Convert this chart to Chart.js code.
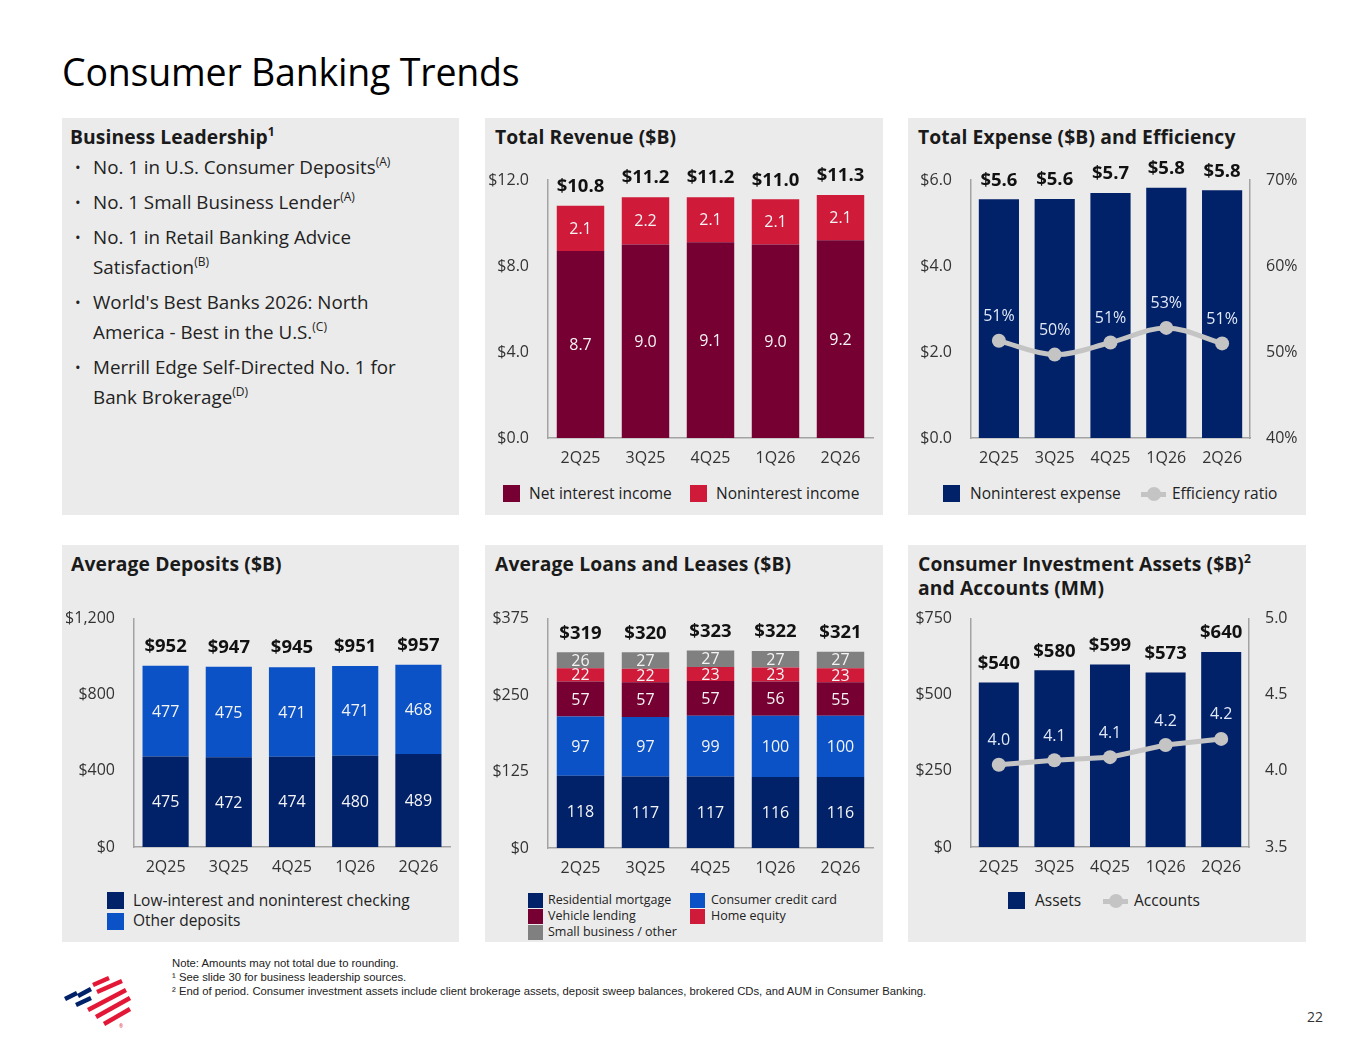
<!DOCTYPE html>
<html>
<head>
<meta charset="utf-8">
<title>Consumer Banking Trends</title>
<script src="https://cdn.jsdelivr.net/npm/chart.js@4.4.1/dist/chart.umd.min.js"></script>
<style>
  body { margin: 0; background: #fff; font-family: 'Open Sans', sans-serif; color: #222; }
  #page { position: relative; width: 1365px; height: 1055px; overflow: hidden; background: #fff; }
  .panel { position: absolute; background: #ebebeb; }
  .ptitle { position: absolute; left: 10px; top: 7px; font-weight: 700; font-size: 19.3px; line-height: 24px; color: #1a1a1a; white-space: nowrap; letter-spacing: 0.1px; }
  .ptitle sup { font-size: 12px; vertical-align: 8px; line-height: 0; }
  canvas { position: absolute; }
  h1 { position: absolute; left: 62px; top: 44px; margin: 0; font-weight: 400; font-size: 37.5px; line-height: 56px; color: #000; letter-spacing: -0.2px; }
  .bullets { position: absolute; left: 0; top: 34px; margin: 0; padding: 0; list-style: none; font-size: 18.8px; line-height: 30px; color: #222; white-space: nowrap; }
  .bullets li { position: relative; padding-left: 31px; margin-bottom: 5px; }
  .bullets li::before { content: '\2022'; position: absolute; left: 13px; top: 0; font-size: 15px; }
  .bullets sup { font-size: 12px; vertical-align: 8px; line-height: 0; }
  .leg { position: absolute; font-size: 15.5px; line-height: 20px; color: #222; white-space: nowrap; }
  .leg .sq { position: absolute; width: 17px; height: 17px; }
  .leg .ln { position: absolute; width: 25px; height: 5px; background: #c4c4c4; }
  .leg .ln::after { content: ''; position: absolute; left: 6px; top: -5px; width: 14px; height: 14px; border-radius: 50%; background: #c4c4c4; }
  .small { font-size: 12.5px; line-height: 16px; }
  .small .sq { width: 15px; height: 15px; }
  .notes { position: absolute; left: 172px; top: 956px; font-family: 'Liberation Sans Narrow', 'Arial Narrow', sans-serif; font-size: 11.3px; line-height: 14px; color: #222; white-space: nowrap; }
  .pnum { position: absolute; left: 1307px; top: 1007px; font-size: 14px; color: #333; }
</style>
</head>
<body>
<div id="page">
  <h1>Consumer Banking Trends</h1>

  <div class="panel" style="left:62px;top:118px;width:397px;height:397px">
    <div class="ptitle" style="left:8px">Business Leadership<sup>1</sup></div>
    <ul class="bullets">
      <li>No. 1 in U.S. Consumer Deposits<sup>(A)</sup></li>
      <li>No. 1 Small Business Lender<sup>(A)</sup></li>
      <li>No. 1 in Retail Banking Advice<br>Satisfaction<sup>(B)</sup></li>
      <li>World's Best Banks 2026: North<br>America - Best in the U.S.<sup>(C)</sup></li>
      <li>Merrill Edge Self-Directed No. 1 for<br>Bank Brokerage<sup>(D)</sup></li>
    </ul>
  </div>

  <div class="panel" style="left:485px;top:118px;width:398px;height:397px">
    <div class="ptitle">Total Revenue ($B)</div>
  </div>
  <div class="panel" style="left:908px;top:118px;width:398px;height:397px">
    <div class="ptitle">Total Expense ($B) and Efficiency</div>
  </div>
  <div class="panel" style="left:62px;top:545px;width:397px;height:397px">
    <div class="ptitle" style="left:9px">Average Deposits ($B)</div>
  </div>
  <div class="panel" style="left:485px;top:545px;width:398px;height:397px">
    <div class="ptitle">Average Loans and Leases ($B)</div>
  </div>
  <div class="panel" style="left:908px;top:545px;width:398px;height:397px">
    <div class="ptitle">Consumer Investment Assets ($B)<sup>2</sup><br>and Accounts (MM)</div>
  </div>

  <canvas id="revenue" width="398" height="325" style="left:485px;top:150px"></canvas>
  <canvas id="expense" width="398" height="325" style="left:908px;top:150px"></canvas>
  <canvas id="deposits" width="397" height="295" style="left:62px;top:590px"></canvas>
  <canvas id="loans" width="398" height="295" style="left:485px;top:590px"></canvas>
  <canvas id="investments" width="398" height="295" style="left:908px;top:590px"></canvas>

  <!-- legends -->
  <div class="leg" style="left:503px;top:483px"><span class="sq" style="left:0;top:2px;background:#760032"></span><span style="position:absolute;left:26px">Net interest income</span></div>
  <div class="leg" style="left:690px;top:483px"><span class="sq" style="left:0;top:2px;background:#cf1a3a"></span><span style="position:absolute;left:26px">Noninterest income</span></div>

  <div class="leg" style="left:943px;top:483px"><span class="sq" style="left:0;top:2px;background:#012169"></span><span style="position:absolute;left:27px">Noninterest expense</span></div>
  <div class="leg" style="left:1141px;top:483px"><span class="ln" style="left:0;top:9px"></span><span style="position:absolute;left:31px">Efficiency ratio</span></div>

  <div class="leg" style="left:107px;top:890px"><span class="sq" style="left:0;top:2px;background:#012169"></span><span style="position:absolute;left:26px">Low-interest and noninterest checking</span></div>
  <div class="leg" style="left:107px;top:910px"><span class="sq" style="left:0;top:3px;background:#0a52c6"></span><span style="position:absolute;left:26px">Other deposits</span></div>

  <div class="leg small" style="left:528px;top:892px"><span class="sq" style="left:0;top:1px;background:#012169"></span><span style="position:absolute;left:20px">Residential mortgage</span></div>
  <div class="leg small" style="left:528px;top:908px"><span class="sq" style="left:0;top:1px;background:#760032"></span><span style="position:absolute;left:20px">Vehicle lending</span></div>
  <div class="leg small" style="left:528px;top:924px"><span class="sq" style="left:0;top:1px;background:#808080"></span><span style="position:absolute;left:20px">Small business / other</span></div>
  <div class="leg small" style="left:690px;top:892px"><span class="sq" style="left:0;top:1px;background:#0a52c6"></span><span style="position:absolute;left:21px">Consumer credit card</span></div>
  <div class="leg small" style="left:690px;top:908px"><span class="sq" style="left:0;top:1px;background:#cf1a3a"></span><span style="position:absolute;left:21px">Home equity</span></div>

  <div class="leg" style="left:1008px;top:890px"><span class="sq" style="left:0;top:2px;background:#012169"></span><span style="position:absolute;left:27px">Assets</span></div>
  <div class="leg" style="left:1103px;top:890px"><span class="ln" style="left:0;top:9px"></span><span style="position:absolute;left:31px">Accounts</span></div>

  <svg style="position:absolute;left:62px;top:975px" width="72" height="58" viewBox="0 0 72 58">
    <g stroke-width="4.5" fill="none">
      <line x1="3" y1="24" x2="15" y2="18" stroke="#012169"/>
      <line x1="16" y1="21" x2="29" y2="14" stroke="#012169"/>
      <line x1="14" y1="30" x2="29" y2="23" stroke="#012169"/>
      <line x1="31" y1="10" x2="47" y2="3" stroke="#e31837"/>
      <line x1="35" y1="17" x2="60" y2="6" stroke="#e31837"/>
      <line x1="26" y1="35" x2="64" y2="15" stroke="#e31837"/>
      <line x1="34" y1="42" x2="68" y2="23" stroke="#e31837"/>
      <line x1="42" y1="49" x2="68" y2="34" stroke="#e31837"/>
    </g>
    <text x="57" y="53" font-size="5" fill="#e31837" font-family="Open Sans">&#174;</text>
  </svg>

  <div class="notes">
    Note: Amounts may not total due to rounding.<br>
    ¹ See slide 30 for business leadership sources.<br>
    ² End of period. Consumer investment assets include client brokerage assets, deposit sweep balances, brokered CDs, and AUM in Consumer Banking.
  </div>
  <div class="pnum">22</div>
</div>

<script>
// data
const quarters = ['2Q25', '3Q25', '4Q25', '1Q26', '2Q26'];

const netInterestIncome = [8.7, 9.0, 9.1, 9.0, 9.2];
const noninterestIncome = [2.1, 2.2, 2.1, 2.1, 2.1];
const revenueTotals = ['$10.8', '$11.2', '$11.2', '$11.0', '$11.3'];

const noninterestExpense = [5.55, 5.56, 5.70, 5.82, 5.76];
const expenseTotals = ['$5.6', '$5.6', '$5.7', '$5.8', '$5.8'];
const efficiencyRatio = [51.3, 49.7, 51.1, 52.8, 51.0];
const efficiencyText = ['51%', '50%', '51%', '53%', '51%'];

const lowInterestChecking = [475, 472, 474, 480, 489];
const otherDeposits = [477, 475, 471, 471, 468];
const depositTotals = ['$952', '$947', '$945', '$951', '$957'];

const residentialMortgage = [118, 117, 117, 116, 116];
const consumerCreditCard = [97, 97, 99, 100, 100];
const vehicleLending = [57, 57, 57, 56, 55];
const homeEquity = [22, 22, 23, 23, 23];
const smallBusinessOther = [26, 27, 27, 27, 27];
const loanTotals = ['$319', '$320', '$323', '$322', '$321'];

const investmentAssets = [540, 580, 599, 573, 640];
const assetTotals = ['$540', '$580', '$599', '$573', '$640'];
const investmentAccounts = [4.04, 4.07, 4.09, 4.17, 4.21];
const accountText = ['4.0', '4.1', '4.1', '4.2', '4.2'];

const MAROON = '#760032', RED = '#cf1a3a', NAVY = '#012169', BLUE = '#0a52c6', GREY = '#808080', LINE = '#c4c4c4';

Chart.defaults.font.family = "'Open Sans', sans-serif";
Chart.defaults.color = '#333';

// draws segment values, line values and bold totals on top of the stacks
function valueLabels(totals) {
  return {
    id: 'valueLabels',
    afterDatasetsDraw(chart) {
      const ctx = chart.ctx;
      ctx.save();
      ctx.textAlign = 'center';
      ctx.textBaseline = 'middle';
      chart.data.datasets.forEach((ds, i) => {
        if (!ds.texts) return;
        const meta = chart.getDatasetMeta(i);
        ctx.fillStyle = ds.type === 'line' ? '#e2e9f6' : '#f4f4f4';
        ctx.font = "16px 'Open Sans'";
        meta.data.forEach((el, j) => {
          const y = ds.type === 'line' ? el.y - 24 : (el.y + el.base) / 2 + 1;
          ctx.fillText(ds.texts[j], el.x, y);
        });
      });
      if (totals) {
        ctx.fillStyle = '#111';
        ctx.font = "bold 18.5px 'Open Sans'";
        totals.forEach((t, j) => {
          let top = Infinity, x = 0;
          chart.data.datasets.forEach((ds, i) => {
            if (ds.type === 'line') return;
            const el = chart.getDatasetMeta(i).data[j];
            if (el.y < top) { top = el.y; x = el.x; }
          });
          ctx.fillText(t, x, top - 19);
        });
      }
      ctx.restore();
    }
  };
}

function xAxis(h) {
  return {
    stacked: true,
    grid: { display: false, drawTicks: false },
    border: { color: '#a3a3a3', width: 1.5 },
    ticks: { color: '#333', font: { size: 16 }, padding: 11 },
    afterFit: s => { s.height = h; }
  };
}

function yAxis(w, min, max, step, fmt, pos) {
  return {
    position: pos || 'left',
    stacked: pos !== 'right',
    min: min, max: max,
    grid: { display: false, drawTicks: false },
    border: { color: '#a3a3a3', width: 1.5 },
    ticks: { stepSize: step, color: '#333', font: { size: 16 }, padding: pos === 'right' ? 16 : 19, callback: fmt },
    afterFit: s => { s.width = w; }
  };
}

function barSet(label, data, color, texts) {
  return { label: label, data: data, backgroundColor: color, texts: texts, order: 1,
           barPercentage: 0.73, categoryPercentage: 1 };
}

function lineSet(label, data, texts, tension) {
  return { type: 'line', label: label, data: data, yAxisID: 'y1', texts: texts, order: 0,
           borderColor: LINE, borderWidth: 5, tension: tension,
           pointRadius: 7, pointBackgroundColor: LINE, pointBorderWidth: 0 };
}

function baseOptions(padding, scales) {
  return {
    responsive: false,
    animation: false,
    devicePixelRatio: 1,
    layout: { padding: padding },
    plugins: { legend: { display: false }, tooltip: { enabled: false } },
    scales: scales
  };
}

const oneDec = v => v.toFixed(1);
const money1 = v => '$' + v.toFixed(1);
const money0 = v => '$' + v.toLocaleString('en-US');

new Chart(document.getElementById('revenue'), {
  type: 'bar',
  data: {
    labels: quarters,
    datasets: [
      barSet('Net interest income', netInterestIncome, MAROON, netInterestIncome.map(oneDec)),
      barSet('Noninterest income', noninterestIncome, RED, noninterestIncome.map(oneDec))
    ]
  },
  options: baseOptions({ top: 30, right: 10, left: 0, bottom: 0 }, {
    x: xAxis(37),
    y: yAxis(63, 0, 12, 4, money1)
  }),
  plugins: [valueLabels(revenueTotals)]
});

const expBar = barSet('Noninterest expense', noninterestExpense, NAVY, null);
expBar.barPercentage = 0.72;
new Chart(document.getElementById('expense'), {
  type: 'bar',
  data: {
    labels: quarters,
    datasets: [
      expBar,
      lineSet('Efficiency ratio', efficiencyRatio, efficiencyText, 0.35)
    ]
  },
  options: baseOptions({ top: 30, right: 0, left: 0, bottom: 0 }, {
    x: xAxis(37),
    y: yAxis(63, 0, 6, 2, money1),
    y1: yAxis(56, 40, 70, 10, v => v + '%', 'right')
  }),
  plugins: [valueLabels(expenseTotals)]
});

new Chart(document.getElementById('deposits'), {
  type: 'bar',
  data: {
    labels: quarters,
    datasets: [
      barSet('Low-interest and noninterest checking', lowInterestChecking, NAVY, lowInterestChecking.map(String)),
      barSet('Other deposits', otherDeposits, BLUE, otherDeposits.map(String))
    ]
  },
  options: baseOptions({ top: 27, right: 9, left: 0, bottom: 0 }, {
    x: xAxis(38),
    y: yAxis(72, 0, 1200, 400, money0)
  }),
  plugins: [valueLabels(depositTotals)]
});

new Chart(document.getElementById('loans'), {
  type: 'bar',
  data: {
    labels: quarters,
    datasets: [
      barSet('Residential mortgage', residentialMortgage, NAVY, residentialMortgage.map(String)),
      barSet('Consumer credit card', consumerCreditCard, BLUE, consumerCreditCard.map(String)),
      barSet('Vehicle lending', vehicleLending, MAROON, vehicleLending.map(String)),
      barSet('Home equity', homeEquity, RED, homeEquity.map(String)),
      barSet('Small business / other', smallBusinessOther, GREY, smallBusinessOther.map(String))
    ]
  },
  options: baseOptions({ top: 27, right: 10, left: 0, bottom: 0 }, {
    x: xAxis(37),
    y: yAxis(63, 0, 375, 125, money0)
  }),
  plugins: [valueLabels(loanTotals)]
});

const invBar = barSet('Assets', investmentAssets, NAVY, null);
invBar.barPercentage = 0.72;
new Chart(document.getElementById('investments'), {
  type: 'bar',
  data: {
    labels: quarters,
    datasets: [
      invBar,
      lineSet('Accounts', investmentAccounts, accountText, 0)
    ]
  },
  options: baseOptions({ top: 27, right: 0, left: 0, bottom: 0 }, {
    x: xAxis(38),
    y: yAxis(63, 0, 750, 250, money0),
    y1: yAxis(57, 3.5, 5.0, 0.5, oneDec, 'right')
  }),
  plugins: [valueLabels(assetTotals)]
});
</script>
</body>
</html>
